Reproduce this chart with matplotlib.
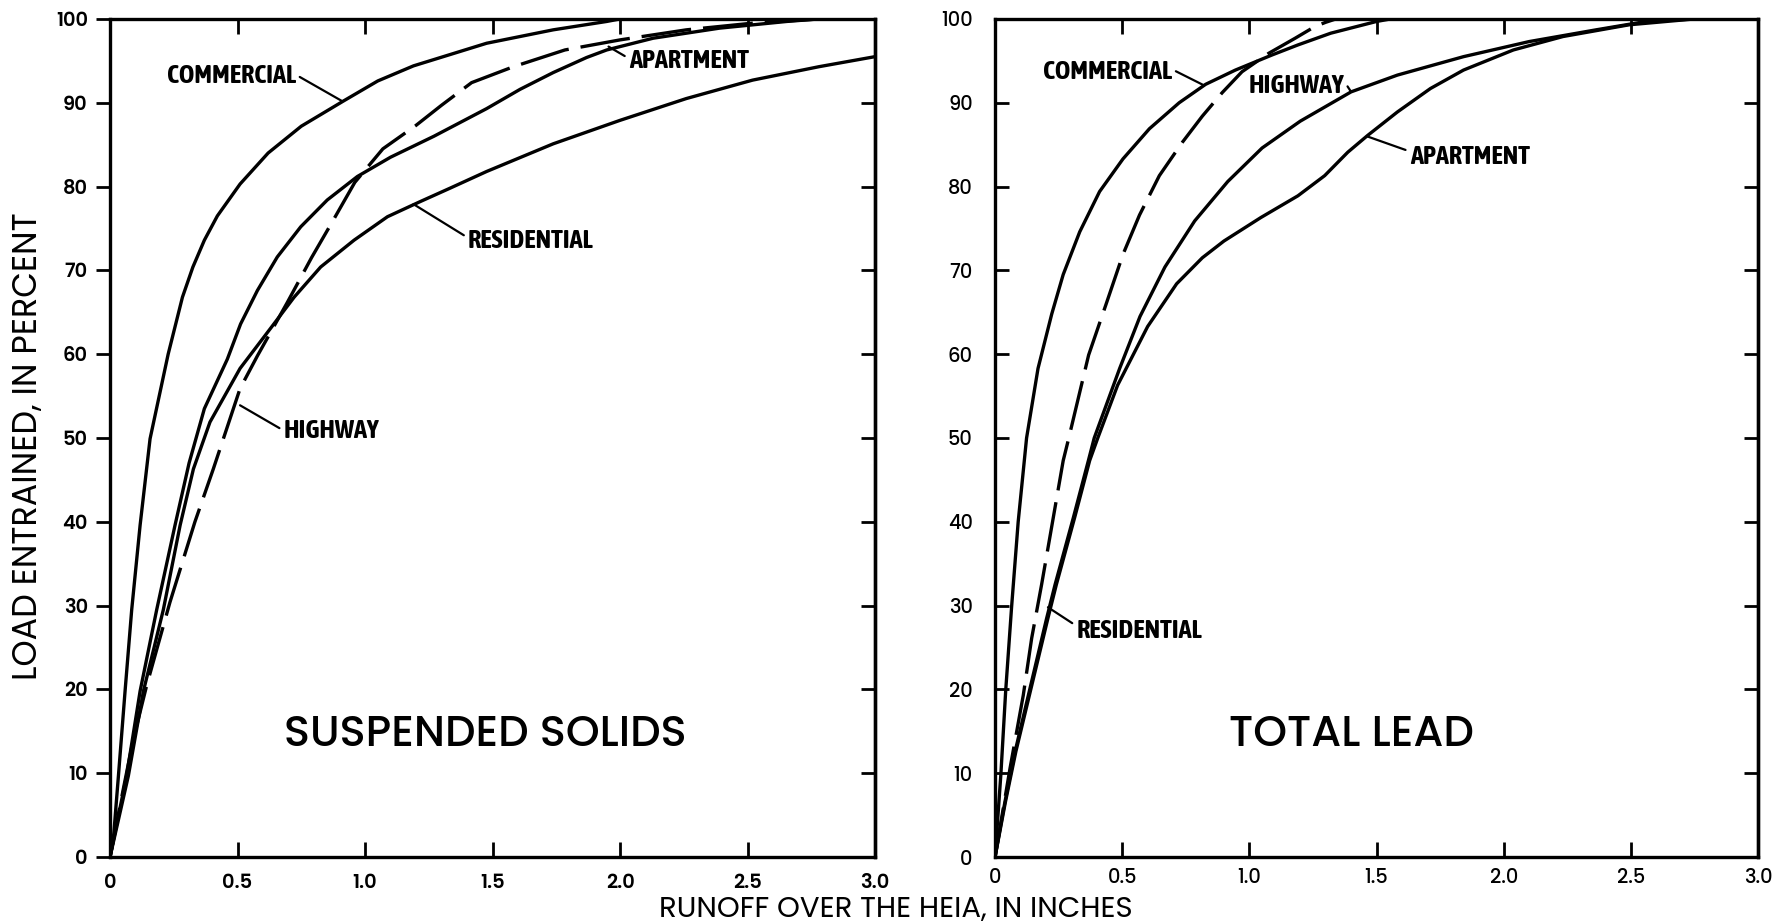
import matplotlib
matplotlib.use('Agg')
import matplotlib.pyplot as plt

# x: runoff over the HEIA (inches), y: load entrained (percent)
xticks = [0, 0.5, 1.0, 1.5, 2.0, 2.5, 3.0]
xtick_labels = ['0', '0.5', '1.0', '1.5', '2.0', '2.5', '3.0']
yticks = [0, 10, 20, 30, 40, 50, 60, 70, 80, 90, 100]

# suspended solids
ss_commercial_x = [0, 0.013, 0.033, 0.059, 0.085, 0.118, 0.157, 0.228, 0.284, 0.325, 0.37, 0.421,
                   0.51, 0.62, 0.75, 0.915, 1.05, 1.19, 1.477, 1.738, 1.948, 2.0, 3.0]
ss_commercial_y = [0, 2.1, 9.7, 19.8, 29.5, 39.6, 49.9, 60.0, 66.8, 70.4, 73.6, 76.5,
                   80.3, 84.0, 87.2, 90.2, 92.6, 94.4, 97.1, 98.7, 99.7, 100, 100]
ss_apartment_x = [0, 0.065, 0.118, 0.183, 0.255, 0.31, 0.37, 0.46, 0.512, 0.578, 0.656, 0.748,
                  0.852, 0.97, 1.1, 1.27, 1.477, 1.608, 1.738, 1.869, 1.948, 2.13, 2.39, 2.654, 2.78, 3.0]
ss_apartment_y = [0, 9.7, 19.8, 29.5, 39.6, 47.0, 53.5, 59.4, 63.6, 67.6, 71.6, 75.2,
                  78.4, 81.2, 83.5, 86.0, 89.3, 91.6, 93.6, 95.4, 96.3, 97.7, 98.9, 99.7, 100, 100]
ss_residential_x = [0, 0.072, 0.131, 0.209, 0.275, 0.327, 0.392, 0.51, 0.635, 0.722, 0.826, 0.957,
                    1.088, 1.216, 1.333, 1.477, 1.738, 2.0, 2.26, 2.52, 2.78, 3.0]
ss_residential_y = [0, 9.7, 19.8, 29.5, 39.6, 46.3, 51.9, 58.3, 63.3, 66.8, 70.4, 73.6,
                    76.4, 78.2, 79.8, 81.8, 85.1, 87.9, 90.5, 92.7, 94.3, 95.5]
ss_highway_x = [0, 0.052, 0.091, 0.144, 0.235, 0.333, 0.405, 0.51, 0.578, 0.694, 0.79, 0.87,
                0.96, 1.07, 1.2, 1.30, 1.418, 1.582, 1.784, 2.0, 2.26, 2.52, 2.78, 3.0]
ss_highway_y = [0, 8.1, 14.0, 20.5, 30.4, 40.0, 46.3, 55.9, 59.8, 66.1, 71.5, 75.7,
                80.5, 84.5, 87.3, 89.7, 92.4, 94.3, 96.3, 97.5, 98.7, 99.5, 100, 100]

# total lead
tl_commercial_x = [0, 0.023, 0.042, 0.065, 0.091, 0.124, 0.169, 0.223, 0.268, 0.333, 0.411, 0.503,
                   0.607, 0.724, 0.828, 0.945, 1.089, 1.191, 1.32, 1.5, 1.555, 3.0]
tl_commercial_y = [0, 9.9, 19.9, 29.8, 40.0, 50.0, 58.3, 64.8, 69.5, 74.6, 79.4, 83.3,
                   86.9, 90.0, 92.2, 93.9, 95.7, 96.9, 98.3, 99.7, 100, 100]
tl_residential_x = [0, 0.059, 0.111, 0.144, 0.183, 0.229, 0.268, 0.29, 0.368, 0.437, 0.503, 0.568,
                    0.646, 0.737, 0.815, 0.893, 0.971, 1.076, 1.18, 1.258, 1.30, 1.34]
tl_residential_y = [0, 10.6, 19.3, 26.1, 32.5, 40.5, 47.3, 50.0, 59.9, 66.0, 71.9, 76.6,
                    81.3, 85.3, 88.4, 91.2, 93.7, 95.9, 97.7, 99.1, 99.6, 100]
tl_highway_x = [0, 0.039, 0.079, 0.131, 0.203, 0.236, 0.308, 0.367, 0.39, 0.49, 0.57, 0.668,
                0.785, 0.915, 1.05, 1.2, 1.4, 1.582, 1.842, 2.1, 2.363, 2.559, 2.75, 3.0]
tl_highway_y = [0, 6.6, 12.6, 19.3, 28.5, 32.5, 40.5, 47.3, 50.0, 58.3, 64.5, 70.4,
                75.9, 80.6, 84.6, 87.8, 91.3, 93.3, 95.5, 97.3, 98.7, 99.7, 100, 100]
tl_apartment_x = [0, 0.041, 0.082, 0.135, 0.208, 0.241, 0.313, 0.372, 0.404, 0.482, 0.6, 0.714,
                  0.815, 0.9, 1.045, 1.191, 1.296, 1.387, 1.465, 1.582, 1.712, 1.842, 2.038, 2.233,
                  2.493, 2.75, 3.0]
tl_apartment_y = [0, 6.6, 12.6, 19.3, 28.5, 32.5, 40.5, 47.3, 50.0, 56.3, 63.3, 68.4,
                  71.5, 73.5, 76.3, 78.9, 81.3, 84.1, 86.1, 88.9, 91.7, 93.9, 96.3, 97.9,
                  99.3, 100, 100]

LW = 2.4
DASH = (0, (15, 3.6))
LABEL_FONT = ['Asap Condensed', 'Roboto Condensed', 'DejaVu Sans']
ROUND_FONT = ['Poppins', 'DejaVu Sans']


def draw(ax, x, y, dashed=False):
    ax.plot(x, y, color='black', lw=LW, ls=DASH if dashed else '-',
            solid_joinstyle='round', solid_capstyle='round')


def style_axes(ax, left_dir, tick_weight, ypad, xpad):
    ax.set_xlim(0, 3)
    ax.set_ylim(0, 100)
    for s in ax.spines.values():
        s.set_linewidth(2.4)
    ax.set_xticks(xticks)
    ax.set_xticklabels(xtick_labels, fontsize=14, fontweight=tick_weight, family=ROUND_FONT)
    ax.set_yticks(yticks)
    ax.set_yticklabels([str(v) for v in yticks], fontsize=14, fontweight=tick_weight, family=ROUND_FONT)
    ax.tick_params(axis='x', direction='in', top=True, bottom=True, length=11, width=2, pad=xpad)
    ax.tick_params(axis='y', direction=left_dir, left=True, right=False, length=10, width=2, pad=ypad)
    sec = ax.secondary_yaxis('right')
    sec.set_yticks(yticks)
    sec.tick_params(direction='in', length=10, width=2, labelright=False)
    sec.spines['right'].set_linewidth(2.4)


def label(ax, text, tip, pos, relpos):
    ax.annotate(text, xy=tip, xytext=pos, textcoords='data', ha='left', va='center',
                fontsize=19, fontweight='bold', family=LABEL_FONT,
                arrowprops=dict(arrowstyle='-', lw=1.6, color='black',
                                shrinkA=1, shrinkB=0, relpos=relpos))


fig = plt.figure(figsize=(17.89, 9.24), dpi=100)
ax1 = fig.add_axes([0.0615, 0.0725, 0.4276, 0.907])
ax2 = fig.add_axes([0.5562, 0.0725, 0.4265, 0.907])

# suspended solids panel
draw(ax1, ss_commercial_x, ss_commercial_y)
draw(ax1, ss_apartment_x, ss_apartment_y)
draw(ax1, ss_residential_x, ss_residential_y)
draw(ax1, ss_highway_x, ss_highway_y, dashed=True)
style_axes(ax1, 'out', 'semibold', 6, 12)
label(ax1, 'COMMERCIAL', (0.91, 90.2), (0.222, 93.2), (1, 0.55))
label(ax1, 'APARTMENT', (1.955, 96.7), (2.034, 95.0), (0, 0.6))
label(ax1, 'RESIDENTIAL', (1.19, 77.9), (1.403, 73.6), (0, 0.6))
label(ax1, 'HIGHWAY', (0.51, 53.9), (0.68, 50.9), (0, 0.5))
ax1.text(1.47, 14.5, 'SUSPENDED SOLIDS', ha='center', va='center', fontsize=31,
         fontweight='medium', family=ROUND_FONT)

# total lead panel
draw(ax2, tl_commercial_x, tl_commercial_y)
draw(ax2, tl_highway_x, tl_highway_y)
draw(ax2, tl_apartment_x, tl_apartment_y)
draw(ax2, tl_residential_x, tl_residential_y, dashed=True)
style_axes(ax2, 'in', 'medium', 16, 8)
label(ax2, 'COMMERCIAL', (0.82, 92.1), (0.1875, 93.7), (1, 0.6))
label(ax2, 'HIGHWAY', (1.40, 91.3), (0.996, 92.0), (1, 0.7))
label(ax2, 'APARTMENT', (1.462, 86.0), (1.63, 83.6), (0, 0.7))
label(ax2, 'RESIDENTIAL', (0.208, 29.8), (0.319, 27.0), (0, 0.7))
ax2.text(1.40, 14.5, 'TOTAL LEAD', ha='center', va='center', fontsize=31,
         fontweight='medium', family=ROUND_FONT)

fig.text(0.0162, 0.517, 'LOAD ENTRAINED, IN PERCENT', rotation=90, ha='center', va='center',
         fontsize=24, family=ROUND_FONT)
fig.text(0.5006, 0.0152, 'RUNOFF OVER THE HEIA, IN INCHES', ha='center', va='center',
         fontsize=21, family=ROUND_FONT)

fig.savefig('out.png', dpi=100)
